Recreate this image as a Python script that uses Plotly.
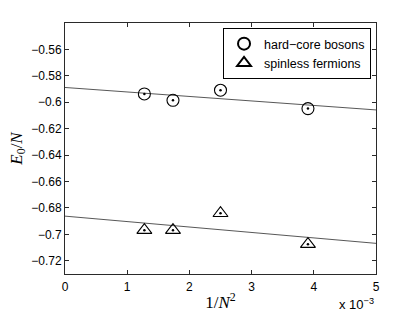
import plotly.graph_objects as go

# Data
x_vals = [1.276e-3, 1.736e-3, 2.5e-3, 3.906e-3]          # 1/N^2
bosons = [-0.5937, -0.5985, -0.5909, -0.6048]
fermions = [-0.6968, -0.6968, -0.6840, -0.7074]

# Linear fits (intercept, slope per unit of 1/N^2)
boson_fit = [-0.5888, -3.40]
fermion_fit = [-0.6862, -4.12]
fit_x = [0.0, 5e-3]

y_ticks = [-0.56, -0.58, -0.60, -0.62, -0.64, -0.66, -0.68, -0.70, -0.72]
y_ticklabels = ["\u22120.56", "\u22120.58", "\u22120.6", "\u22120.62", "\u22120.64",
                "\u22120.66", "\u22120.68", "\u22120.7", "\u22120.72"]
x_ticks = [0, 1e-3, 2e-3, 3e-3, 4e-3, 5e-3]
x_ticklabels = ["0", "1", "2", "3", "4", "5"]

font_sans = "Liberation Sans, Arial, sans-serif"
font_serif = "Liberation Serif, Times New Roman, serif"
axis_col = "#2a2a2a"

fig = go.Figure()

for fit in (boson_fit, fermion_fit):
    fig.add_trace(go.Scatter(
        x=fit_x, y=[fit[0] + fit[1] * xv for xv in fit_x],
        mode="lines", line=dict(color="#444", width=0.9),
        showlegend=False, hoverinfo="skip"))

fig.add_trace(go.Scatter(
    x=x_vals, y=bosons, mode="markers", name="hard\u2212core bosons",
    marker=dict(symbol="circle-open", size=12, color="black", line=dict(width=1.1))))
fig.add_trace(go.Scatter(
    x=x_vals, y=fermions, mode="markers", name="spinless fermions",
    marker=dict(symbol="triangle-up-open", size=13, color="black", line=dict(width=1.1))))

for series in (bosons, fermions):
    fig.add_trace(go.Scatter(
        x=x_vals, y=series, mode="markers",
        marker=dict(symbol="circle", size=2.5, color="black"),
        showlegend=False, hoverinfo="skip"))

fig.update_layout(
    width=415, height=313,
    margin=dict(l=65, r=39, t=23, b=39, autoexpand=False),
    paper_bgcolor="white", plot_bgcolor="white",
    font=dict(family=font_sans, size=12, color="black"),
    showlegend=True,
    legend=dict(
        x=0.984, y=0.98, xanchor="right", yanchor="top",
        bordercolor="black", borderwidth=1, bgcolor="white",
        font=dict(family=font_sans, size=12.5),
        tracegroupgap=0, itemsizing="constant",
    ),
)

fig.update_xaxes(
    range=[0, 5e-3], tickvals=x_ticks, ticktext=x_ticklabels,
    ticks="inside", ticklen=4, tickcolor=axis_col, mirror="allticks",
    showline=True, linecolor=axis_col, linewidth=1, showgrid=False, zeroline=False,
    tickfont=dict(family=font_sans, size=12), automargin=False, ticklabelstandoff=2,
    title=dict(text="1/<i>N</i><sup>2</sup>", font=dict(family=font_serif, size=17), standoff=2),
)
fig.update_yaxes(
    range=[-0.73, -0.54], tickvals=y_ticks, ticktext=y_ticklabels,
    ticks="inside", ticklen=4, tickcolor=axis_col, mirror="allticks",
    showline=True, linecolor=axis_col, linewidth=1, showgrid=False, zeroline=False,
    tickfont=dict(family=font_sans, size=12), automargin=False,
    title=dict(text="<i>E</i><sub>0</sub>/<i>N</i>", font=dict(family=font_serif, size=17), standoff=4),
)

fig.add_annotation(
    xref="paper", yref="paper", x=1.0, y=-0.12, xanchor="right", yanchor="middle",
    text="x 10<sup>\u22123</sup>", showarrow=False,
    font=dict(family=font_sans, size=13, color="black"))

# remove the browser's default 8px body margin so the figure fills the window
fig.write_html("out.html", config={"displayModeBar": False},
               post_script="document.body.style.margin='0px';")
